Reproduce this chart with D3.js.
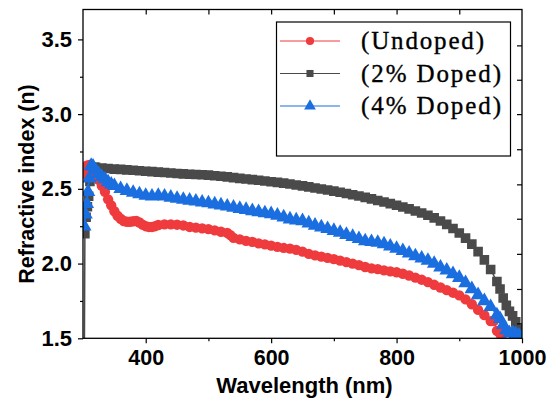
<!DOCTYPE html>
<html><head><meta charset="utf-8">
<script src="https://cdn.jsdelivr.net/npm/d3@7/dist/d3.min.js"></script>
<style>body{margin:0;background:#fff}svg{display:block}</style>
</head><body>
<svg id="c" width="554" height="401"></svg>
<script>
// ---- data ----
const xTicks = [400, 600, 800, 1000];
const xMinorTicks = [500, 700, 900];
const xTopTicks = [400, 500, 600, 700, 800, 900];
const yTicks = [1.5, 2.0, 2.5, 3.0, 3.5];
const yMinorTicks = [1.75, 2.25, 2.75, 3.25];
const yRightTicks = [1.6, 1.83, 2.065, 2.3, 2.53, 2.765, 3.0, 3.23, 3.46];
const seriesNames = ["(Undoped)", "(2% Doped)", "(4% Doped)"];

const wlUndoped = [301,303,306,310,314,320,325,330,335,340,345,350,355,360,365,370,375,380,385,390,395,400,405,410,415,420,430,440,450,460,470,480,490,500,510,520,530,535,540,550,560,570,580,590,600,610,620,630,640,650,660,670,680,690,700,710,720,730,740,750,760,770,780,790,800,810,820,830,840,850,860,870,880,890,900,910,920,930,940,950,955,960,965,970];
const nUndoped = [2.60,2.64,2.655,2.66,2.645,2.60,2.56,2.52,2.48,2.43,2.39,2.35,2.32,2.30,2.285,2.28,2.28,2.283,2.285,2.275,2.26,2.25,2.245,2.245,2.25,2.258,2.262,2.262,2.26,2.255,2.245,2.24,2.235,2.23,2.222,2.213,2.205,2.19,2.172,2.162,2.152,2.145,2.135,2.128,2.12,2.112,2.105,2.10,2.092,2.08,2.065,2.055,2.047,2.038,2.03,2.02,2.01,2.0,1.99,1.977,1.968,1.963,1.955,1.948,1.942,1.932,1.92,1.906,1.892,1.876,1.858,1.84,1.822,1.805,1.787,1.76,1.728,1.69,1.655,1.615,1.615,1.55,1.53,1.48];

const wl2 = [302,303,305,307,309,311,314,318,320,330,340,350,360,370,380,390,400,410,420,430,440,450,460,470,480,490,500,510,520,530,540,550,560,570,580,590,600,610,620,630,640,650,660,670,680,690,700,710,720,730,740,750,760,770,780,790,800,810,820,830,840,850,860,870,880,890,900,910,920,930,940,950,960,965,970,975,980,985,990,995,1000];
const n2 = [1.2,2.20,2.31,2.38,2.45,2.55,2.63,2.645,2.645,2.64,2.636,2.632,2.63,2.627,2.624,2.621,2.618,2.615,2.612,2.609,2.606,2.603,2.60,2.598,2.596,2.594,2.592,2.588,2.584,2.58,2.575,2.57,2.566,2.562,2.558,2.553,2.548,2.543,2.538,2.532,2.526,2.52,2.513,2.506,2.499,2.492,2.485,2.477,2.469,2.461,2.452,2.443,2.433,2.422,2.412,2.401,2.39,2.378,2.366,2.352,2.338,2.323,2.306,2.285,2.262,2.235,2.205,2.17,2.13,2.08,2.025,1.96,1.88,1.83,1.77,1.72,1.68,1.65,1.61,1.56,1.51];

const wl4 = [302,304,306,308,310,313,316,320,325,330,335,340,345,350,360,370,380,390,400,410,420,430,440,450,460,470,480,490,500,510,520,530,540,550,560,570,580,590,600,610,620,630,640,650,660,670,680,690,700,710,720,730,740,750,760,770,780,790,800,810,820,830,840,850,860,870,880,890,900,910,920,930,940,950,960,965,970,975,980,985,990,995,1000];
const n4 = [2.25,2.33,2.40,2.48,2.57,2.655,2.65,2.625,2.60,2.58,2.565,2.545,2.53,2.52,2.50,2.487,2.475,2.465,2.455,2.45,2.455,2.45,2.442,2.435,2.428,2.422,2.416,2.41,2.405,2.397,2.39,2.383,2.375,2.367,2.36,2.352,2.345,2.338,2.332,2.322,2.31,2.297,2.29,2.285,2.27,2.255,2.243,2.232,2.22,2.207,2.193,2.18,2.165,2.15,2.145,2.14,2.13,2.115,2.10,2.085,2.068,2.05,2.035,2.02,2.00,1.975,1.955,1.93,1.905,1.87,1.83,1.79,1.75,1.71,1.655,1.63,1.59,1.555,1.535,1.535,1.53,1.52,1.51];

// ---- chart ----
const svg = d3.select("#c");
const M = {left: 83, right: 522, top: 9.5, bottom: 338.3};
const x = d3.scaleLinear().domain([300, 1000]).range([M.left, M.right]);
const y = d3.scaleLinear().domain([1.5, 3.7]).range([M.bottom, M.top]);

const series = [
  {name: seriesNames[1], wl: wl2, n: n2, color: "#4a4a4a", sym: d3.symbolSquare, size: 92, lsize: 50},
  {name: seriesNames[0], wl: wlUndoped, n: nUndoped, color: "#ef3b3d", sym: d3.symbolCircle, size: 84, lsize: 52},
  {name: seriesNames[2], wl: wl4, n: n4, color: "#1a6ee0", sym: d3.symbolTriangle, size: 92, lsize: 60}
];

svg.append("defs").append("clipPath").attr("id", "clip")
  .append("rect").attr("x", M.left).attr("y", M.top)
  .attr("width", M.right - M.left).attr("height", M.bottom - M.top);

const plot = svg.append("g").attr("clip-path", "url(#clip)");
const line = d3.line().x(d => x(d[0])).y(d => y(d[1]));
series.forEach(s => {
  const pts = s.wl.map((w, i) => [w, s.n[i]]);
  plot.append("path").datum(pts).attr("d", line)
    .attr("fill", "none").attr("stroke", s.color).attr("stroke-width", 1.5);
  plot.selectAll(null).data(pts).enter().append("path")
    .attr("transform", d => `translate(${x(d[0])},${y(d[1])})`)
    .attr("d", d3.symbol().type(s.sym).size(s.size))
    .attr("fill", s.color);
});

// axes
const fontAx = "'Liberation Sans', Arial, sans-serif";
const gx = svg.append("g").attr("transform", `translate(0,${M.bottom})`)
  .call(d3.axisBottom(x).tickValues(xTicks).tickSize(5).tickPadding(6).tickFormat(d3.format("d")));
gx.selectAll("text").attr("font-family", fontAx).attr("font-weight", "bold").attr("font-size", 21.5).attr("fill", "#000");
svg.append("g").attr("transform", `translate(0,${M.bottom})`)
  .call(d3.axisBottom(x).tickValues(xMinorTicks).tickSize(3).tickFormat(""));
svg.append("g").attr("transform", `translate(0,${M.top})`)
  .call(d3.axisBottom(x).tickValues(xTopTicks).tickSize(5).tickFormat(""));

const gy = svg.append("g").attr("transform", `translate(${M.left},0)`)
  .call(d3.axisLeft(y).tickValues(yTicks).tickSize(5).tickPadding(6).tickFormat(d3.format(".1f")));
gy.selectAll("text").attr("font-family", fontAx).attr("font-weight", "bold").attr("font-size", 22).attr("fill", "#000");
svg.append("g").attr("transform", `translate(${M.left},0)`)
  .call(d3.axisLeft(y).tickValues(yMinorTicks).tickSize(3).tickFormat(""));
svg.append("g").attr("transform", `translate(${M.right},0)`)
  .call(d3.axisLeft(y).tickValues(yRightTicks).tickSize(5).tickFormat(""));

svg.selectAll(".domain").remove();
svg.selectAll(".tick line").attr("stroke", "#000").attr("stroke-width", 1.2);

// frame
svg.append("rect").attr("x", M.left).attr("y", M.top)
  .attr("width", M.right - M.left).attr("height", M.bottom - M.top)
  .attr("fill", "none").attr("stroke", "#000").attr("stroke-width", 1.3);

// axis titles
svg.append("text").attr("x", (M.left + M.right) / 2 + 2).attr("y", 393)
  .attr("text-anchor", "middle").attr("font-family", fontAx).attr("font-weight", "bold")
  .attr("font-size", 22).text("Wavelength (nm)");
svg.append("text").attr("transform", "translate(34,184) rotate(-90)")
  .attr("text-anchor", "middle").attr("font-family", fontAx).attr("font-weight", "bold")
  .attr("font-size", 21.5).text("Refractive index (n)");

// legend
const lg = svg.append("g");
lg.append("rect").attr("x", 276.5).attr("y", 22).attr("width", 234).attr("height", 134)
  .attr("fill", "#fff").attr("stroke", "#000").attr("stroke-width", 1.2);
const legendOrder = [series[1], series[0], series[2]];
const widths = [123, 140, 140];
legendOrder.forEach((s, i) => {
  const cy = 41 + i * 32.5;
  lg.append("line").attr("x1", 280).attr("x2", 340).attr("y1", cy).attr("y2", cy)
    .attr("stroke", s.color).attr("stroke-width", 1.2);
  lg.append("path").attr("transform", `translate(310,${cy})`)
    .attr("d", d3.symbol().type(s.sym).size(s.lsize)).attr("fill", s.color);
  lg.append("text").attr("x", 361).attr("y", cy + 8)
    .attr("font-family", "'Liberation Serif', 'DejaVu Serif', serif")
    .attr("font-size", 25).attr("textLength", widths[i]).attr("lengthAdjust", "spacing")
    .attr("fill", "#000").attr("stroke", "#000").attr("stroke-width", 0.35).text(s.name);
});
</script>
</body></html>
